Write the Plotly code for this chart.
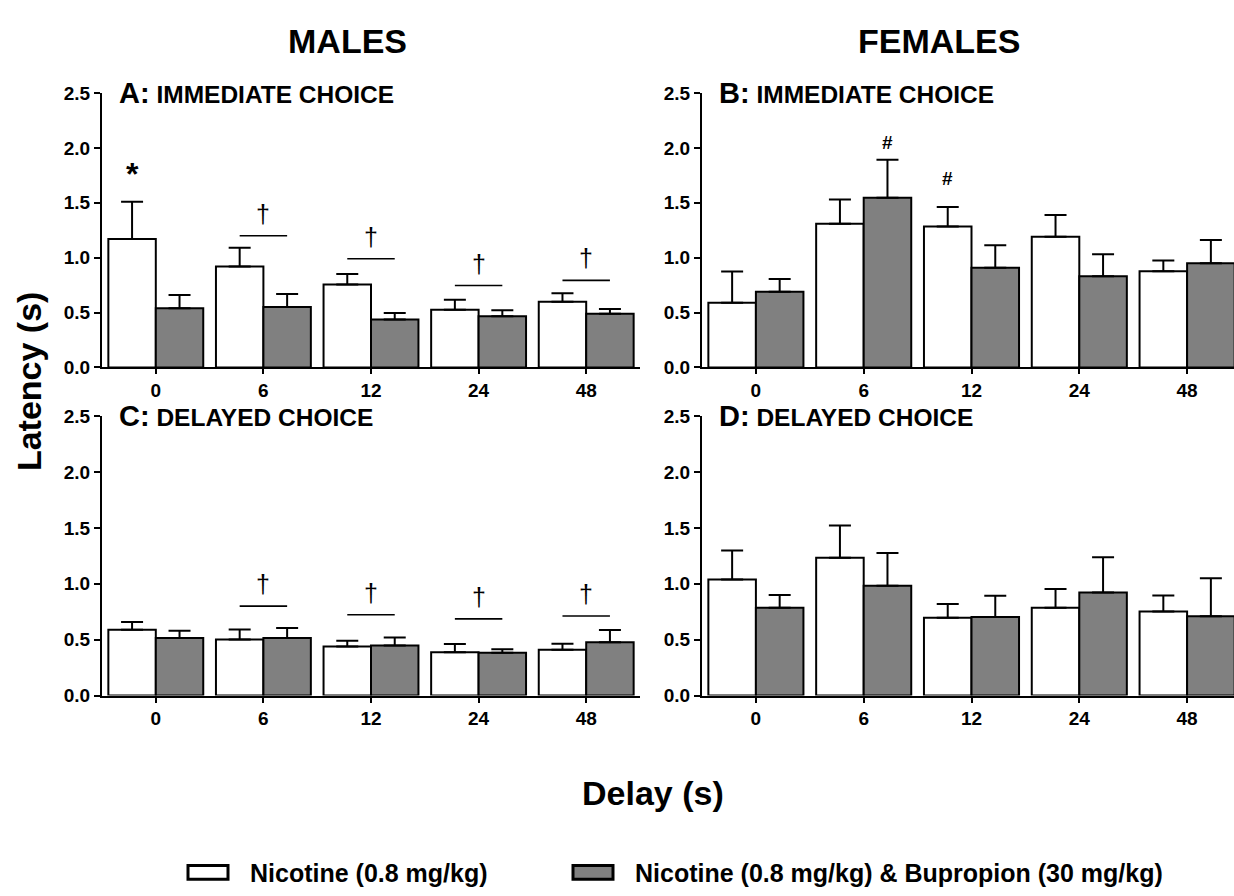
import plotly.graph_objects as go

delays = ["0", "6", "12", "24", "48"]
xpos = [0, 1, 2, 3, 4]

# Panel A: males, immediate choice
A_nic = [1.17, 0.92, 0.755, 0.525, 0.598]
A_nic_err = [1.51, 1.09, 0.852, 0.616, 0.675]
A_bup = [0.54, 0.551, 0.436, 0.466, 0.49]
A_bup_err = [0.66, 0.669, 0.495, 0.522, 0.533]
# Panel B: females, immediate choice
B_nic = [0.59, 1.309, 1.285, 1.191, 0.876]
B_nic_err = [0.873, 1.53, 1.462, 1.389, 0.973]
B_bup = [0.69, 1.545, 0.908, 0.831, 0.949]
B_bup_err = [0.805, 1.893, 1.114, 1.032, 1.162]
# Panel C: males, delayed choice
C_nic = [0.589, 0.502, 0.438, 0.388, 0.411]
C_nic_err = [0.659, 0.592, 0.49, 0.461, 0.464]
C_bup = [0.516, 0.516, 0.449, 0.382, 0.476]
C_bup_err = [0.58, 0.604, 0.519, 0.414, 0.586]
# Panel D: females, delayed choice
D_nic = [1.038, 1.234, 0.697, 0.785, 0.753]
D_nic_err = [1.298, 1.523, 0.82, 0.954, 0.896]
D_bup = [0.785, 0.983, 0.703, 0.922, 0.709]
D_bup_err = [0.901, 1.275, 0.893, 1.237, 1.05]

# significance markers (dagger lines)
A_sig_idx = [1, 2, 3, 4]
A_sig_y = [1.20, 0.99, 0.746, 0.793]
C_sig_idx = [1, 2, 3, 4]
C_sig_y = [0.80, 0.723, 0.686, 0.712]
# star / hash markers: (category index, group -1 white / +1 gray, y)
A_star = [(0, -1, 1.76)]
B_hash = [(1, 1, 2.05), (2, -1, 1.72)]

yticks = [0, 0.5, 1.0, 1.5, 2.0, 2.5]

W, H = 1234, 896
FONT = "Liberation Sans"
GRAY = "#808080"
BARGAP = 0.118
BW = (1 - BARGAP) / 2
OFF = BW / 2

panels = [
    ("A", "IMMEDIATE CHOICE", A_nic, A_nic_err, A_bup, A_bup_err, 1),
    ("B", "IMMEDIATE CHOICE", B_nic, B_nic_err, B_bup, B_bup_err, 2),
    ("C", "DELAYED CHOICE", C_nic, C_nic_err, C_bup, C_bup_err, 3),
    ("D", "DELAYED CHOICE", D_nic, D_nic_err, D_bup, D_bup_err, 4),
]

# pixel layout
left_x = (102, 640)
right_x = (702, 1241)
top_y = (85, 366)
bot_y = (416, 702)

def xdom(px):
    return [px[0] / W, min(px[1], W) / W]

def ydom(py):
    return [1 - py[1] / H, 1 - py[0] / H]

def xrange_for(px):
    per = (px[1] - px[0]) / 5.0
    end = -0.5 + (min(px[1], W) - px[0]) / per
    return [-0.5, end]

fig = go.Figure()
layout_axes = {}
annotations = []

for (letter, title, nic, nic_e, bup, bup_e, k) in panels:
    px = left_x if letter in "AC" else right_x
    py = top_y if letter in "AB" else bot_y
    xa = "x" if k == 1 else f"x{k}"
    ya = "y" if k == 1 else f"y{k}"
    fig.add_trace(go.Bar(
        x=xpos, y=nic, xaxis=xa, yaxis=ya, name="Nicotine (0.8 mg/kg)",
        marker=dict(color="white", line=dict(color="black", width=2)),
        error_y=dict(type="data", symmetric=False,
                     array=[e - v for e, v in zip(nic_e, nic)],
                     arrayminus=[0] * 5, color="black", thickness=2, width=11),
        showlegend=False, offsetgroup="a"))
    fig.add_trace(go.Bar(
        x=xpos, y=bup, xaxis=xa, yaxis=ya,
        name="Nicotine (0.8 mg/kg) & Bupropion (30 mg/kg)",
        marker=dict(color=GRAY, line=dict(color="black", width=2)),
        error_y=dict(type="data", symmetric=False,
                     array=[e - v for e, v in zip(bup_e, bup)],
                     arrayminus=[0] * 5, color="black", thickness=2, width=11),
        showlegend=False, offsetgroup="b"))
    xkey = "xaxis" if k == 1 else f"xaxis{k}"
    ykey = "yaxis" if k == 1 else f"yaxis{k}"
    layout_axes[xkey] = dict(
        domain=xdom(px), anchor=ya, range=xrange_for(px),
        tickvals=xpos, ticktext=delays, showgrid=False, zeroline=False,
        showline=True, linecolor="black", linewidth=2,
        ticks="outside", ticklen=5, tickwidth=2, tickcolor="black",
        tickfont=dict(family=FONT, size=19, color="black", weight="bold"))
    layout_axes[ykey] = dict(
        domain=ydom(py), anchor=xa, range=[0, 2.5],
        tickvals=yticks, ticktext=[f"{t:.1f}" for t in yticks],
        showgrid=False, zeroline=False,
        showline=True, linecolor="black", linewidth=2,
        ticks="outside", ticklen=6, tickwidth=2, tickcolor="black",
        tickfont=dict(family=FONT, size=19, color="black", weight="bold"))
    annotations.append(dict(
        xref=f"{xa} domain", yref=f"{ya} domain", x=0.028, y=1.0,
        xanchor="left", yanchor="middle", showarrow=False,
        text=f"<b><span style='font-size:29px'>{letter}:</span> {title}</b>",
        font=dict(family=FONT, size=24.5, color="black")))

# dagger lines
for (idxs, ys, xa, ya) in [(A_sig_idx, A_sig_y, "x", "y"), (C_sig_idx, C_sig_y, "x3", "y3")]:
    for i, yv in zip(idxs, ys):
        fig.add_trace(go.Scatter(
            x=[i - OFF, i + OFF], y=[yv, yv], mode="lines", xaxis=xa, yaxis=ya,
            line=dict(color="black", width=1.6), showlegend=False, hoverinfo="skip"))
        annotations.append(dict(
            xref=xa, yref=ya, x=i, y=yv, xanchor="center", yanchor="bottom", yshift=6,
            showarrow=False, text="†",
            font=dict(family=FONT, size=25, color="black")))

for (i, g, yv) in A_star:
    annotations.append(dict(xref="x", yref="y", x=i + g * OFF, y=yv,
                            xanchor="center", yanchor="middle",
                            showarrow=False, text="<b>*</b>",
                            font=dict(family=FONT, size=32, color="black")))
for (i, g, yv) in B_hash:
    annotations.append(dict(xref="x2", yref="y2", x=i + g * OFF, y=yv,
                            xanchor="center", yanchor="middle",
                            showarrow=False, text="<b>#</b>",
                            font=dict(family=FONT, size=19, color="black")))

# headers and axis titles
def ptext(x, y, text, size, angle=0):
    return dict(xref="paper", yref="paper", x=x / W, y=1 - y / H,
                xanchor="center", yanchor="middle", showarrow=False,
                textangle=angle, text=f"<b>{text}</b>",
                font=dict(family=FONT, size=size, color="black"))

annotations += [
    ptext(347, 32, "MALES", 34),
    ptext(939, 32, "FEMALES", 34),
    ptext(29, 380, "Latency (s)", 34, angle=-90),
    ptext(653, 802, "Delay (s)", 34),
]

# legend as annotations with box shapes
legend_items = [("Nicotine (0.8 mg/kg)", "white", 188, 248),
                ("Nicotine (0.8 mg/kg) & Bupropion (30 mg/kg)", GRAY, 573, 633)]
shapes = []
for (label, col, bx, tx) in legend_items:
    shapes.append(dict(type="rect", xref="paper", yref="paper",
                       x0=bx / W, x1=(bx + 40) / W, y0=1 - 890 / H, y1=1 - 876 / H,
                       fillcolor=col, line=dict(color="black", width=3)))
    annotations.append(dict(xref="paper", yref="paper", x=tx / W, y=1 - 884 / H,
                            xanchor="left", yanchor="middle", showarrow=False,
                            text=f"<b>{label}</b>",
                            font=dict(family=FONT, size=25, color="black")))

fig.update_layout(
    width=W, height=H, margin=dict(l=0, r=0, t=0, b=0),
    paper_bgcolor="white", plot_bgcolor="white",
    barmode="group", bargap=BARGAP, bargroupgap=0,
    annotations=annotations, shapes=shapes, showlegend=False,
    **layout_axes)

fig.write_html("out.html")
